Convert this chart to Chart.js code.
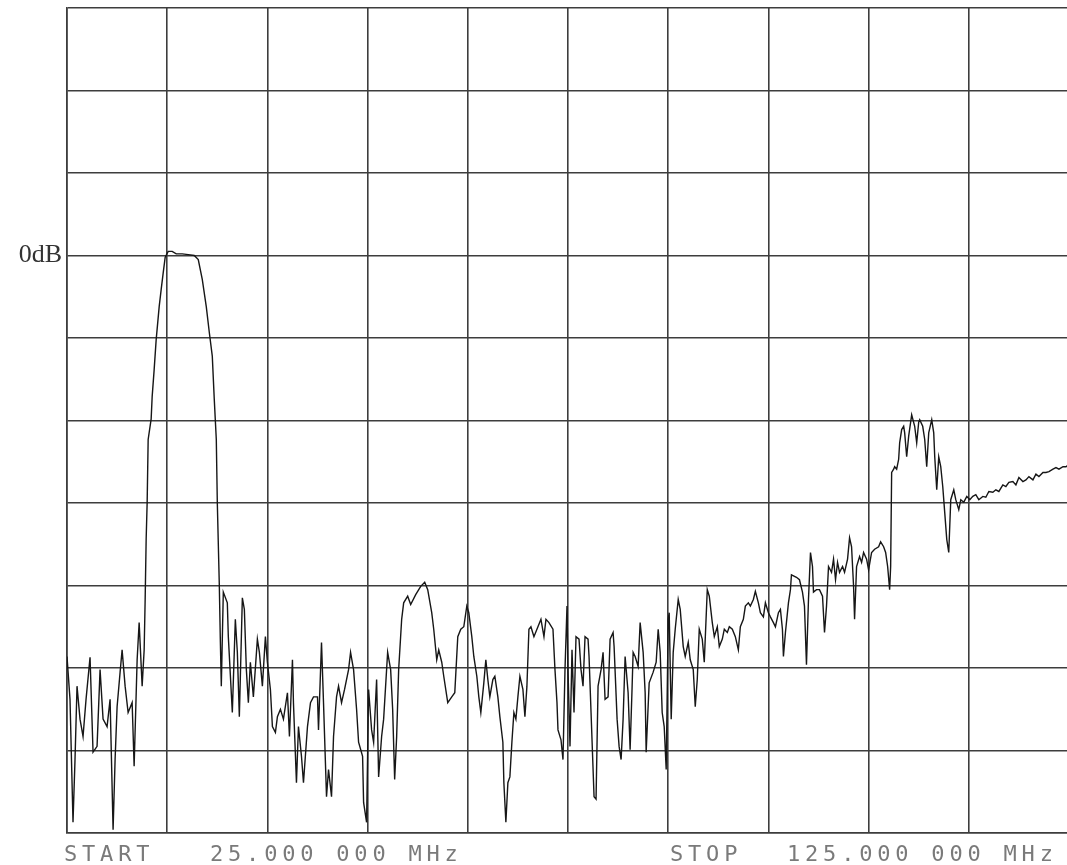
<!DOCTYPE html>
<html>
<head>
<meta charset="utf-8">
<script src="https://cdn.jsdelivr.net/npm/chart.js@4/dist/chart.umd.min.js"></script>
<style>
html,body{margin:0;padding:0;background:#fff;overflow:hidden;}
canvas{display:block;}
</style>
</head>
<body>
<canvas id="c" width="1075" height="865"></canvas>
<script>
// Frequency axis (MHz): START 25 MHz, STOP 125 MHz, 10 MHz / div
const freqStart = 25;
const freqStop = 125;
// Level axis (dB): 10 dB / div, reference line 0 dB
const dbTop = 30;
const dbBottom = -70;
const refLabel = '0dB';
const footLabels = ['START', '25.000 000 MHz', 'STOP', '125.000 000 MHz'];

// Trace frequencies (MHz)
const freq = [
25.0,25.3,25.6,25.8,26.0,26.3,26.6,26.9,27.3,27.6,28.0,28.3,28.6,29.0,29.3,29.6,29.8,30.0,30.3,30.5,
30.8,31.1,31.5,31.7,32.0,32.2,32.5,32.7,32.8,32.9,33.0,33.1,33.4,33.5,33.7,33.9,34.2,34.4,34.6,34.8,
35.1,35.5,35.9,36.5,37.1,37.7,38.1,38.5,38.9,39.2,39.5,39.7,39.9,40.0,40.2,40.3,40.4,40.6,41.0,41.1,
41.5,41.8,42.0,42.2,42.5,42.7,42.9,43.1,43.3,43.6,44.0,44.2,44.5,44.8,45.0,45.3,45.5,45.8,46.0,46.3,
46.6,47.0,47.2,47.5,47.6,47.9,48.1,48.4,48.6,49.0,49.3,49.6,50.0,50.1,50.4,50.6,50.9,51.1,51.4,51.6,
51.9,52.1,52.4,52.7,53.1,53.3,53.6,53.9,54.1,54.5,54.6,54.9,55.1,55.4,55.6,55.9,56.1,56.4,56.6,57.0,
57.3,57.5,57.7,57.9,58.1,58.4,58.6,59.0,59.3,59.8,60.3,60.7,61.0,61.4,61.6,61.9,62.1,62.4,62.6,63.0,
63.4,63.7,64.0,64.3,64.6,64.9,65.1,65.4,65.6,65.9,66.1,66.3,66.6,66.8,67.0,67.2,67.5,67.7,68.0,68.2,
68.5,68.6,68.8,69.0,69.2,69.4,69.6,69.8,70.0,70.2,70.5,70.7,70.9,71.1,71.3,71.6,72.0,72.3,72.6,72.8,
73.1,73.5,73.7,73.9,74.0,74.3,74.5,74.7,74.9,75.0,75.2,75.4,75.6,75.8,76.1,76.3,76.5,76.7,77.0,77.1,
77.3,77.6,77.8,78.0,78.3,78.5,78.7,79.0,79.2,79.5,79.6,79.9,80.1,80.3,80.5,80.7,81.0,81.2,81.4,81.5,
81.7,82.0,82.2,82.5,82.7,82.8,83.1,83.5,83.8,84.0,84.2,84.4,84.6,84.8,85.0,85.1,85.3,85.5,85.7,86.0,
86.2,86.5,86.7,87.0,87.2,87.5,87.7,87.9,88.1,88.4,88.6,88.9,89.1,89.4,89.6,89.9,90.1,90.4,90.6,90.9,
91.1,91.4,91.7,92.0,92.2,92.5,92.7,93.0,93.2,93.5,93.7,94.0,94.2,94.5,94.7,95.0,95.2,95.5,95.7,96.0,
96.2,96.4,96.5,96.7,97.0,97.2,97.3,97.8,98.1,98.4,98.6,98.8,99.0,99.2,99.4,99.5,99.8,100.1,100.4,100.6,
100.8,101.0,101.3,101.5,101.7,101.9,102.1,102.4,102.6,102.9,103.1,103.3,103.5,103.6,103.8,104.1,104.3,104.5,104.8,105.0,
105.3,105.6,106.0,106.2,106.5,106.7,106.9,107.1,107.2,107.3,107.5,107.6,107.8,108.0,108.1,108.3,108.5,108.6,108.8,109.0,
109.3,109.6,109.8,110.0,110.1,110.4,110.6,110.8,111.0,111.3,111.5,111.6,111.8,112.0,112.2,112.4,112.6,112.8,113.0,113.2,
113.5,113.7,114.0,114.2,114.5,114.8,115.1,115.4,115.7,116.0,116.4,116.7,117.0,117.4,117.7,118.0,118.4,118.7,119.0,119.4,
119.7,120.0,120.4,120.7,121.0,121.4,121.7,122.0,122.4,122.7,123.0,123.4,123.7,124.0,124.4,124.7,125.0
];

// Trace levels (dB)
const level = [
-48.6,-53.8,-68.7,-61.1,-52.2,-56.2,-58.3,-53.8,-48.7,-60.2,-59.5,-50.2,-56.2,-57.1,-53.8,-69.6,-61.1,-54.7,-50.5,-47.8,
-52.2,-55.4,-54.2,-61.9,-49.0,-44.5,-52.2,-47.8,-41.7,-34.4,-29.9,-22.3,-19.8,-17.1,-13.8,-10.2,-6.2,-4.1,-2.1,-0.2,
0.5,0.5,0.2,0.2,0.1,0.0,-0.5,-2.9,-6.2,-9.3,-12.2,-17.5,-22.3,-29.9,-39.9,-46.5,-52.2,-40.8,-42.1,-46.2,
-55.4,-44.1,-48.1,-55.9,-41.5,-42.9,-50.2,-54.2,-49.3,-53.5,-46.5,-48.1,-52.2,-46.2,-49.3,-52.6,-57.1,-57.8,-55.9,-55.0,
-56.2,-53.0,-58.3,-49.0,-54.2,-63.9,-57.1,-60.7,-63.9,-57.1,-54.2,-53.5,-53.5,-57.5,-46.9,-54.2,-65.6,-62.3,-65.6,-58.3,
-53.5,-52.2,-54.2,-52.6,-50.2,-48.1,-50.2,-55.0,-59.0,-60.7,-66.3,-68.7,-52.6,-57.5,-59.0,-51.4,-63.2,-58.3,-56.2,-48.1,
-50.2,-55.0,-63.5,-58.3,-50.2,-44.1,-42.1,-41.3,-42.3,-41.1,-40.1,-39.6,-40.5,-43.3,-45.3,-49.0,-47.8,-49.3,-51.0,-54.2,
-53.5,-53.0,-46.2,-45.3,-45.0,-42.5,-43.3,-46.2,-48.6,-51.0,-53.5,-55.4,-51.8,-49.0,-51.4,-53.5,-51.4,-51.0,-53.5,-55.9,
-59.0,-63.9,-68.7,-63.9,-63.2,-59.0,-55.4,-56.2,-53.5,-51.0,-52.6,-55.9,-52.2,-45.3,-45.0,-46.2,-45.0,-44.1,-46.2,-44.1,
-44.5,-45.3,-50.2,-54.2,-57.5,-58.7,-61.1,-50.2,-42.5,-50.2,-59.5,-47.8,-55.4,-46.2,-46.5,-50.2,-52.2,-46.2,-46.5,-48.6,
-55.4,-65.6,-65.9,-52.2,-50.2,-48.1,-53.8,-53.5,-46.5,-45.7,-47.4,-56.2,-59.5,-61.1,-56.2,-48.6,-53.0,-59.9,-52.2,-48.1,
-48.6,-49.8,-44.5,-48.1,-53.0,-60.2,-51.8,-50.5,-49.3,-45.3,-48.1,-55.4,-57.1,-62.3,-44.1,-43.3,-56.2,-48.1,-45.3,-41.7,
-42.9,-47.4,-48.6,-46.9,-49.0,-50.2,-54.7,-51.4,-45.3,-46.5,-49.3,-40.5,-41.3,-44.5,-46.2,-45.0,-47.4,-46.5,-45.3,-45.7,
-45.0,-45.3,-46.2,-47.8,-45.0,-44.1,-42.5,-42.1,-42.5,-41.7,-40.7,-42.1,-43.3,-43.8,-42.1,-43.3,-43.8,-44.5,-45.0,-43.3,
-42.9,-45.3,-48.6,-45.7,-42.1,-40.5,-38.7,-39.0,-39.3,-40.8,-42.5,-49.6,-41.7,-36.0,-37.7,-40.8,-40.5,-40.5,-41.3,-45.7,
-42.5,-37.7,-38.4,-36.8,-39.3,-37.2,-38.4,-37.7,-38.4,-36.8,-34.2,-35.3,-40.1,-44.1,-37.7,-36.5,-37.2,-36.0,-36.8,-38.1,
-36.0,-35.6,-35.3,-34.7,-35.3,-36.0,-37.7,-40.5,-37.7,-26.3,-25.9,-25.6,-25.9,-24.7,-22.7,-21.1,-20.7,-21.5,-24.4,-21.9,
-19.3,-20.7,-22.7,-20.2,-19.9,-20.7,-22.3,-25.6,-21.5,-19.9,-21.5,-24.4,-28.4,-24.4,-25.6,-28.0,-31.2,-34.4,-36.0,-29.6,
-28.4,-29.6,-30.8,-29.6,-29.9,-29.2,-29.6,-29.2,-29.0,-29.6,-29.2,-29.3,-28.6,-28.7,-28.4,-28.6,-27.8,-28.0,-27.5,-27.4,
-27.8,-26.9,-27.4,-27.2,-26.8,-27.2,-26.5,-26.8,-26.3,-26.3,-26.2,-25.9,-25.7,-25.9,-25.6,-25.6,-25.3
];

const gridColor = '#3d3d3d';

const footPlugin = {
  id: 'footLabels',
  afterDraw(chart) {
    const ctx = chart.ctx;
    const a = chart.chartArea;
    const offsets = [-3, 143, 603, 720];
    ctx.save();
    ctx.fillStyle = '#7a7a7a';
    ctx.font = '22px "DejaVu Sans Mono"';
    ctx.textBaseline = 'alphabetic';
    ctx.textAlign = 'left';
    if ('letterSpacing' in ctx) ctx.letterSpacing = '4.8px';
    footLabels.forEach((t, i) => ctx.fillText(t, a.left + offsets[i], a.bottom + 28));
    ctx.restore();
  }
};

new Chart(document.getElementById('c'), {
  type: 'line',
  data: {
    datasets: [{
      data: freq.map((f, i) => ({ x: f, y: level[i] })),
      borderColor: '#161616',
      borderWidth: 1.4,
      pointRadius: 0,
      tension: 0,
      fill: false
    }]
  },
  options: {
    responsive: false,
    animation: false,
    devicePixelRatio: 1,
    layout: { padding: { left: 0, top: 8, right: 6, bottom: 32 } },
    plugins: { legend: { display: false }, tooltip: { enabled: false } },
    scales: {
      x: {
        type: 'linear',
        min: freqStart,
        max: freqStop,
        ticks: { display: false, stepSize: 10 },
        grid: { color: gridColor, lineWidth: 1.6, drawTicks: false },
        border: { display: true, color: gridColor, width: 1.6 },
        afterFit(s) { s.height = 0; s.paddingLeft = 0; s.paddingRight = 0; }
      },
      y: {
        type: 'linear',
        min: dbBottom,
        max: dbTop,
        afterFit(s) { s.width = 67; s.paddingTop = 0; s.paddingBottom = 0; },
        ticks: {
          stepSize: 10,
          autoSkip: false,
          padding: 5,
          color: '#333',
          font: { family: '"Liberation Serif"', size: 26 },
          callback: (v) => (v === 0 ? refLabel : '')
        },
        grid: { color: gridColor, lineWidth: 1.6, drawTicks: false },
        border: { display: true, color: gridColor, width: 1.6 }
      }
    }
  },
  plugins: [footPlugin]
});
</script>
</body>
</html>
